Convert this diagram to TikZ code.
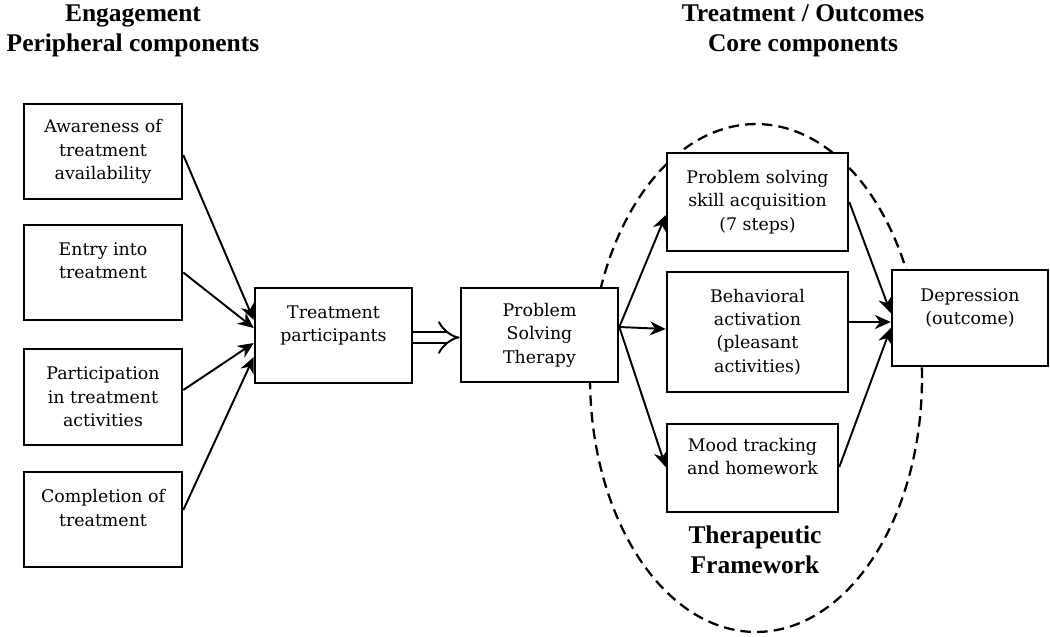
\documentclass[tikz,border=0pt]{standalone}
\usepackage{fontspec}
\setmainfont{Liberation Serif}
\newfontfamily\boxfont{DejaVu Serif}
\usetikzlibrary{arrows.meta,calc}

\begin{document}
\begin{tikzpicture}[x=0.02cm,y=-0.02cm,>={Stealth[length=9pt,width=8pt]},line width=1.1pt,
  comp/.style={draw, rectangle, fill=white, line width=1.5pt, align=center, inner sep=2pt,
    font=\boxfont\fontsize{9.9}{13.3}\selectfont},
  head/.style={align=center, font=\bfseries\fontsize{14.5}{17}\selectfont}]
  \useasboundingbox (0,0) rectangle (1050,636);

  % framework around the core components
  \draw[dash pattern=on 6pt off 3.5pt, line width=1.3pt] (756,378) ellipse [x radius=3.32cm, y radius=5.08cm];

  % engagement side
  \node[comp, minimum width=3.16cm, minimum height=1.9cm] (aw) at (103,151.5) {Awareness of\\treatment\\availability};
  \node[comp, minimum width=3.16cm, minimum height=1.9cm] (en) at (103,272.5) {Entry into\\treatment\\\mbox{}};
  \node[comp, minimum width=3.16cm, minimum height=1.92cm] (pa) at (103,397) {Participation\\in treatment\\activities};
  \node[comp, minimum width=3.16cm, minimum height=1.9cm] (co) at (103,519.5) {Completion of\\treatment\\\mbox{}};
  \node[comp, minimum width=3.14cm, minimum height=1.9cm] (tp) at (333.5,335.5) {Treatment\\participants\\\mbox{}};
  \node[comp, minimum width=3.14cm, minimum height=1.88cm] (pst) at (539.5,335) {Problem\\Solving\\Therapy};

  % core components
  \node[comp, minimum width=3.62cm, minimum height=1.96cm] (ps) at (757.5,202) {Problem solving\\skill acquisition\\(7 steps)};
  \node[comp, minimum width=3.62cm, minimum height=2.4cm] (ba) at (757.5,332) {Behavioral\\activation\\(pleasant\\activities)};
  \node[comp, minimum width=3.42cm, minimum height=1.76cm] (mt) at (752.5,468) {Mood tracking\\and homework\\\mbox{}};
  \node[comp, minimum width=3.12cm, minimum height=1.92cm] (dep) at (970,318) {Depression\\(outcome)\\\mbox{}};

  % headings
  \node[head] (eng) at (133,31) {Engagement\\Peripheral components};
  \node[head] (core) at (803,31) {Treatment / Outcomes\\Core components};
  \node[head] (frame) at (755,550) {Therapeutic\\Framework};

  \draw[->] ($(aw.east)+(0,3.5)$) -- ($(tp.west)+(0,-15.5)$);
  \draw[->] (en.east) -- ($(tp.west)+(0,-7.5)$);
  \draw[->] ($(pa.east)+(0,-7)$) -- ($(tp.west)+(0,7.5)$);
  \draw[->] ($(co.east)+(0,-9.5)$) -- ($(tp.west)+(0,21.5)$);
  \draw[double, double distance=5.5pt, -{Implies[scale=1.8]}] ($(tp.east)+(0,2)$) -- ($(pst.west)+(0,2.5)$);

  \draw[->] ($(pst.east)+(0,-8)$) -- ($(ps.west)+(0,13)$);
  \draw[->] ($(pst.east)+(0,-8)$) -- ($(ba.west)+(0,-3)$);
  \draw[->] ($(pst.east)+(0,-8)$) -- ($(mt.west)+(0,-1)$);

  \draw[->] (ps.east) -- ($(dep.west)+(0,-5)$);
  \draw[->] ($(ba.east)+(0,-10)$) -- ($(dep.west)+(0,4)$);
  \draw[->] ($(mt.east)+(0,-1)$) -- ($(dep.west)+(0,10)$);
\end{tikzpicture}
\end{document}
